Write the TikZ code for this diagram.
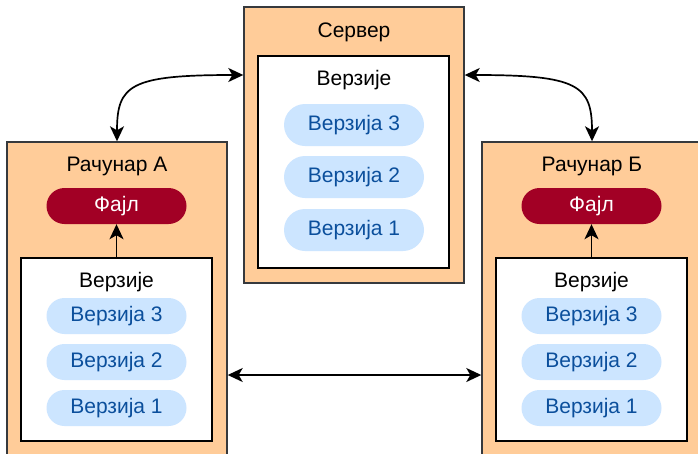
\documentclass[tikz,border=0pt]{standalone}
\usepackage{fontspec}
\setmainfont{Liberation Sans}
\usetikzlibrary{arrows.meta}
\definecolor{boxorange}{HTML}{FFCC99}
\definecolor{boxgray}{HTML}{36393D}
\definecolor{filered}{HTML}{A20025}
\definecolor{verfill}{HTML}{CCE5FF}
\definecolor{vertext}{HTML}{0B4F9C}
\tikzset{
  outerbox/.style={draw=boxgray, fill=boxorange, line width=1.4pt, inner sep=0pt},
  innerbox/.style={draw=black, fill=white, line width=1.4pt, inner sep=0pt},
  title/.style={font=\fontsize{21}{24}\selectfont, text=black, inner sep=0pt},
  filepill/.style={fill=filered, text=white, minimum width=140pt, minimum height=36pt, rounded corners=18pt, font=\fontsize{21}{24}\selectfont, inner sep=0pt},
  verpill/.style={fill=verfill, text=vertext, minimum width=140pt, minimum height=36pt, rounded corners=18pt, font=\fontsize{21}{24}\selectfont, inner sep=0pt},
  sverpill/.style={verpill, minimum height=42pt, rounded corners=21pt},
  conn/.style={line width=1.7pt, draw=black, {Stealth[length=15pt,width=14pt,inset=4pt]}-{Stealth[length=15pt,width=14pt,inset=4pt]}},
  oneway/.style={line width=1.7pt, draw=black, -{Stealth[length=15pt,width=14pt,inset=4pt]}}
}
\begin{document}
\begin{tikzpicture}[x=1pt,y=-1pt]
\useasboundingbox (0,0) rectangle (698,453);
\clip (0,0) rectangle (698,453);
% Server
\node[outerbox, minimum width=220pt, minimum height=276pt] (srv) at (354,145) {};
\node[title] (srvt) at (354,32) {Сервер};
\node[innerbox, minimum width=191pt, minimum height=212pt] (srvin) at (353.5,162) {};
\node[title] (srvv) at (354,80) {Верзије};
\node[sverpill] (s3) at (354,125) {Верзија 3};
\node[sverpill] (s2) at (354,177) {Верзија 2};
\node[sverpill] (s1) at (354,230) {Верзија 1};
% Computer A
\node[outerbox, minimum width=220pt, minimum height=330pt] (ca) at (117,307) {};
\node[title] (cat) at (117,166) {Рачунар А};
\node[filepill] (fa) at (116.5,206) {Фајл};
\node[innerbox, minimum width=191pt, minimum height=183pt] (ina) at (116.5,349.5) {};
\node[title] (vat) at (116.5,282) {Верзије};
\node[verpill] (a3) at (116.5,316) {Верзија 3};
\node[verpill] (a2) at (116.5,362) {Верзија 2};
\node[verpill] (a1) at (116.5,408) {Верзија 1};
% Computer B
\node[outerbox, minimum width=220pt, minimum height=330pt] (cb) at (592,307) {};
\node[title] (cbt) at (592,166) {Рачунар Б};
\node[filepill] (fb) at (591.5,206) {Фајл};
\node[innerbox, minimum width=191pt, minimum height=183pt] (inb) at (591.5,349.5) {};
\node[title] (vbt) at (591.5,282) {Верзије};
\node[verpill] (b3) at (591.5,316) {Верзија 3};
\node[verpill] (b2) at (591.5,362) {Верзија 2};
\node[verpill] (b1) at (591.5,408) {Верзија 1};
% connectors
\draw[oneway] (ina.north) -- (fa.south);
\draw[oneway] (inb.north) -- (fb.south);
\draw[conn] (ca.east |- 0,375) -- (cb.west |- 0,375);
\draw[conn] (srv.west |- 0,75) .. controls (130,75) and (117,85) .. (ca.north);
\draw[conn] (srv.east |- 0,75) .. controls (578,75) and (592,85) .. (cb.north);
\end{tikzpicture}
\end{document}
